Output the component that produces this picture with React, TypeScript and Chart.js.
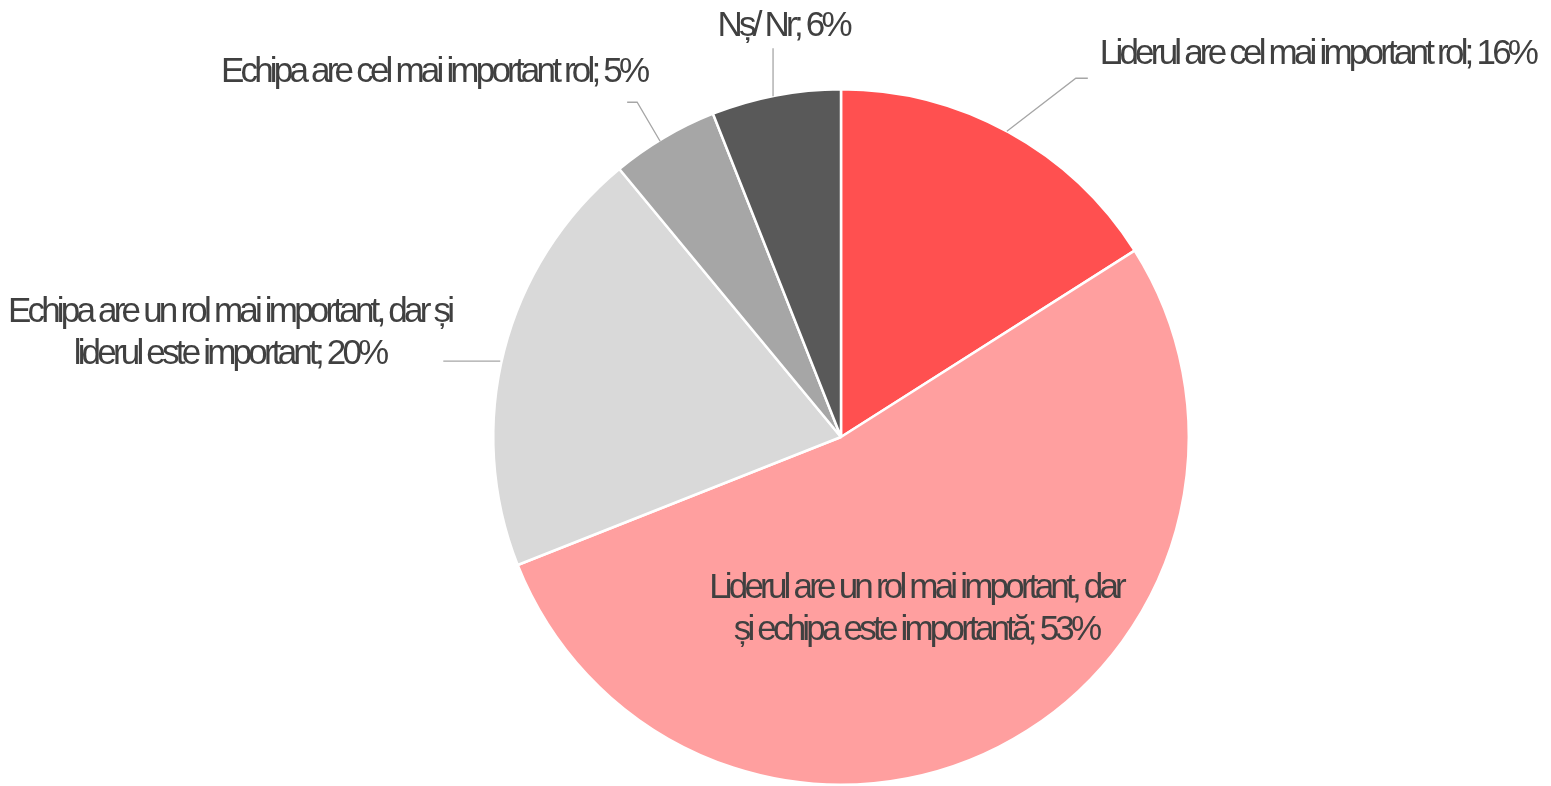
import React, { useEffect, useRef } from "react";
import { Chart, registerables } from "chart.js";

Chart.register(...registerables);

const categories = [
  "Liderul are cel mai important rol",
  "Liderul are un rol mai important, dar și echipa este importantă",
  "Echipa are un rol mai important, dar și liderul este important",
  "Echipa are cel mai important rol",
  "Nș/ Nr",
];
const values = [16, 53, 20, 5, 6];
const labelLines = [
  ["Liderul are cel mai important rol; 16%"],
  ["Liderul are un rol mai important, dar", "și echipa este importantă; 53%"],
  ["Echipa are un rol mai important, dar și", "liderul este important; 20%"],
  ["Echipa are cel mai important rol; 5%"],
  ["Nș/ Nr; 6%"],
];
const colors = ["#FF5050", "#FF9F9F", "#D9D9D9", "#A6A6A6", "#595959"];

// label layout (offsets from pie centre, in px at radius 348)
const labelLayout = [
  { x: 259, y: -373, align: "left", leader: [[166, -306], [235, -359], [247, -359]] },
  { x: 77, y: 161, align: "center", leader: null },
  { x: -610, y: -115, align: "center", leader: [[-341, -76], [-398, -76]] },
  { x: -191, y: -355, align: "right", leader: [[-181, -296], [-204, -335], [-214, -335]] },
  { x: -56, y: -401, align: "center", leader: [[-68, -341], [-68, -389]] },
];

const FONT = '35px "Liberation Sans", Arial, sans-serif';
const SPACING = -3.8;
const LINE_H = 42;

function drawSpaced(ctx: CanvasRenderingContext2D, text: string, x: number, y: number, align: string) {
  const chars = Array.from(text);
  const widths = chars.map((c) => ctx.measureText(c).width);
  const total = widths.reduce((a, b) => a + b, 0) + SPACING * (chars.length - 1);
  let cx = x;
  if (align === "center") cx = x - total / 2;
  else if (align === "right") cx = x - total;
  ctx.textAlign = "left";
  chars.forEach((c, i) => {
    ctx.fillText(c, cx, y);
    cx += widths[i] + SPACING;
  });
}

const labelPlugin = {
  id: "pieLabels",
  afterDatasetsDraw(chart: any) {
    const ctx: CanvasRenderingContext2D = chart.ctx;
    const meta = chart.getDatasetMeta(0);
    const arc0 = meta.data[0];
    if (!arc0) return;
    const cx = arc0.x;
    const cy = arc0.y;
    const s = arc0.outerRadius / 348;
    ctx.save();
    labelLayout.forEach((L, i) => {
      if (L.leader) {
        ctx.beginPath();
        ctx.strokeStyle = "#A6A6A6";
        ctx.lineWidth = 1.3;
        L.leader.forEach((p, j) => {
          const px = cx + p[0] * s;
          const py = cy + p[1] * s;
          if (j === 0) ctx.moveTo(px, py);
          else ctx.lineTo(px, py);
        });
        ctx.stroke();
      }
      ctx.font = FONT;
      ctx.fillStyle = "#404040";
      ctx.textBaseline = "alphabetic";
      labelLines[i].forEach((line, k) => {
        drawSpaced(ctx, line, cx + L.x * s, cy + L.y * s + k * LINE_H, L.align);
      });
    });
    ctx.restore();
  },
};

export default function App() {
  const ref = useRef<HTMLCanvasElement>(null);
  useEffect(() => {
    document.body.style.margin = "0";
    document.body.style.overflow = "hidden";
    const chart = new Chart(ref.current!, {
      type: "pie",
      data: {
        labels: categories,
        datasets: [
          {
            data: values,
            backgroundColor: colors,
            borderColor: "#FFFFFF",
            borderWidth: 2.5,
          },
        ],
      },
      options: {
        responsive: false,
        animation: false,
        layout: { padding: { top: 88, bottom: 0, left: 491, right: 360 } },
        plugins: {
          legend: { display: false },
          tooltip: { enabled: false },
        },
      },
      plugins: [labelPlugin],
    });
    return () => chart.destroy();
  }, []);
  return (
    <div style={{ width: 1551, height: 786, background: "#fff" }}>
      <canvas ref={ref} width={1551} height={786} style={{ display: "block" }} />
    </div>
  );
}
